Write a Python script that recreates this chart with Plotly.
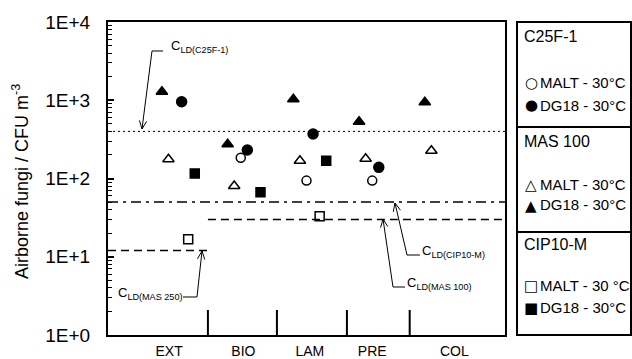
import math
import plotly.graph_objects as go

# ---------------- data ----------------
categories = ["EXT", "BIO", "LAM", "PRE", "COL"]
# series values per category (None = not shown)
c25_malt = [None, 184, 94, 94, None]
c25_dg18 = [958, 231, 370, 139, None]
mas_malt = [176, 80, 169, 179, 226]
mas_dg18 = [1285, 274, 1028, 532, 941]
cip_malt = [16.7, None, 33, None, None]
cip_dg18 = [116, 66.6, 169, None, None]

# detection limits
cld_c25f = 400
cld_cip10 = 50
cld_mas100 = 30
cld_mas250 = 12

# x layout (slot units)
cat_base = [0, 10, 20, 30, 40]
cat_label_pos = [1.1, 12.4, 22.5, 32.0, 44.5]
separators = [7.0, 17.5, 28.15, 37.7]
x_range = [-8.2, 52.2]

FONT = "Liberation Sans, Arial, sans-serif"

# plot area in pixels
L, R, T, B = 108, 505, 22, 335
W, H = 632, 359


def px(x):
    return (x - L) / (R - L)


def py(y):
    return (B - y) / (B - T)


fig = go.Figure()

series = [
    (mas_dg18, 0, "triangle-up", 10),
    (mas_malt, 1, "triangle-up-open", 10),
    (c25_malt, 2, "circle-open", 9),
    (c25_dg18, 3, "circle", 10),
    (cip_malt, 4, "square-open", 9),
    (cip_dg18, 5, "square", 9),
]
for vals, off, sym, size in series:
    xs, ys = [], []
    for b, v in zip(cat_base, vals):
        if v is not None:
            xs.append(b + off)
            ys.append(v)
    fig.add_trace(go.Scatter(
        x=xs, y=ys, mode="markers",
        marker=dict(symbol=sym, size=size, color="black",
                    line=dict(color="black", width=1.5)),
        showlegend=False, hoverinfo="skip"))

# detection limit lines
fig.add_trace(go.Scatter(x=x_range, y=[cld_c25f] * 2, mode="lines",
                         line=dict(color="black", width=1, dash="2px,3px"),
                         showlegend=False, hoverinfo="skip"))
fig.add_trace(go.Scatter(x=x_range, y=[cld_cip10] * 2, mode="lines",
                         line=dict(color="black", width=1.5, dash="10px,5px,3px,5px"),
                         showlegend=False, hoverinfo="skip"))
fig.add_trace(go.Scatter(x=[separators[0], x_range[1]], y=[cld_mas100] * 2, mode="lines",
                         line=dict(color="black", width=1.5, dash="8px,5px"),
                         showlegend=False, hoverinfo="skip"))
fig.add_trace(go.Scatter(x=[x_range[0], separators[0]], y=[cld_mas250] * 2, mode="lines",
                         line=dict(color="black", width=1.5, dash="8px,5px"),
                         showlegend=False, hoverinfo="skip"))

shapes = []
# category separators (short ticks from bottom)
for s in separators:
    shapes.append(dict(type="line", xref="x", yref="paper", x0=s, x1=s,
                       y0=0, y1=py(310), line=dict(color="black", width=2)))


def callout(points, tip):
    path = "M " + " L ".join(f"{px(x):.5f},{py(y):.5f}" for x, y in points + [tip])
    shapes.append(dict(type="path", xref="paper", yref="paper", path=path,
                       line=dict(color="black", width=1)))
    fx, fy = points[-1]
    tx, ty = tip
    dx, dy = fx - tx, fy - ty
    n = math.hypot(dx, dy)
    dx, dy = dx / n, dy / n
    pts = []
    for a in (0.42, -0.42):
        ca, sa = math.cos(a), math.sin(a)
        rx = dx * ca - dy * sa
        ry = dx * sa + dy * ca
        pts.append((tx + 9 * rx, ty + 9 * ry))
    p = (f"M {px(pts[0][0]):.5f},{py(pts[0][1]):.5f} L {px(tx):.5f},{py(ty):.5f} "
         f"L {px(pts[1][0]):.5f},{py(pts[1][1]):.5f}")
    shapes.append(dict(type="path", xref="paper", yref="paper", path=p,
                       line=dict(color="black", width=1)))


callout([(163, 51), (152, 51)], (142, 129))
callout([(183, 297), (197, 297)], (202, 251))
callout([(420, 255), (407, 255)], (395, 203))
callout([(405, 287), (393, 287)], (383, 219))

# legend box
shapes.append(dict(type="rect", xref="paper", yref="paper",
                   x0=px(517), x1=px(631), y0=py(335), y1=py(22),
                   line=dict(color="black", width=2)))
for yy in (127, 232):
    shapes.append(dict(type="line", xref="paper", yref="paper",
                       x0=px(517), x1=px(631), y0=py(yy), y1=py(yy),
                       line=dict(color="black", width=2)))

annotations = []


def ann(text, x, y, size, xanchor="left", family=FONT, **kw):
    annotations.append(dict(text=text, xref="paper", yref="paper", x=px(x), y=py(y),
                            xanchor=xanchor, yanchor="middle", showarrow=False,
                            font=dict(family=family, size=size, color="black"), **kw))


ann("C<sub>LD(C25F-1)</sub>", 169, 46, 13)
ann("C<sub>LD(MAS 250)</sub>", 116, 293, 13)
ann("C<sub>LD(CIP10-M)</sub>", 420, 251, 13)
ann("C<sub>LD(MAS 100)</sub>", 405, 283, 13)

# y title
ann("Airborne fungi / CFU m<sup>-3</sup>", 20, 182, 18, xanchor="center", textangle=-90)

# legend content
legend_groups = [
    ("C25F-1", 37, [("○", "MALT - 30°C", 82), ("●", "DG18 - 30°C", 105)]),
    ("MAS 100", 141, [("△", "MALT - 30°C", 184), ("▲", "DG18 - 30°C", 205)]),
    ("CIP10-M", 244, [("□", "MALT - 30 °C", 285), ("■", "DG18 - 30°C", 307)]),
]
for title, ty, items in legend_groups:
    ann(title, 522, ty, 16)
    for glyph, label, iy in items:
        ann(glyph, 531, iy + 0.5, 15, xanchor="center", family="DejaVu Sans")
        ann(label, 538, iy, 15)

fig.update_layout(
    width=W, height=H,
    margin=dict(l=L, r=W - R, t=T, b=H - B, pad=0, autoexpand=False),
    paper_bgcolor="white", plot_bgcolor="white",
    font=dict(family=FONT, color="black"),
    shapes=shapes, annotations=annotations,
    xaxis=dict(range=x_range, showgrid=False, zeroline=False, automargin=False,
               showline=True, linecolor="black", linewidth=2, mirror=True,
               tickmode="array", tickvals=cat_label_pos, ticktext=categories,
               ticks="", tickfont=dict(size=14, family=FONT), ticklabelstandoff=2),
    yaxis=dict(type="log", range=[0, 4], showgrid=False, zeroline=False, automargin=False,
               showline=True, linecolor="black", linewidth=2, mirror=True,
               tickmode="array", tickvals=[1, 10, 100, 1000, 10000],
               ticktext=["1E+0", "1E+1", "1E+2", "1E+3", "1E+4"],
               ticks="inside", ticklen=6, tickwidth=1.5, tickcolor="black",
               tickfont=dict(size=19, family=FONT), ticklabelstandoff=12,
               minor=dict(ticks="inside", ticklen=4, tickwidth=1, tickcolor="black",
                          tickvals=[m * 10 ** d for d in range(4) for m in range(2, 10)])),
)

fig.write_html("out.html", config={"displayModeBar": False},
               post_script="document.body.style.margin='0';document.body.style.overflow='hidden';")
